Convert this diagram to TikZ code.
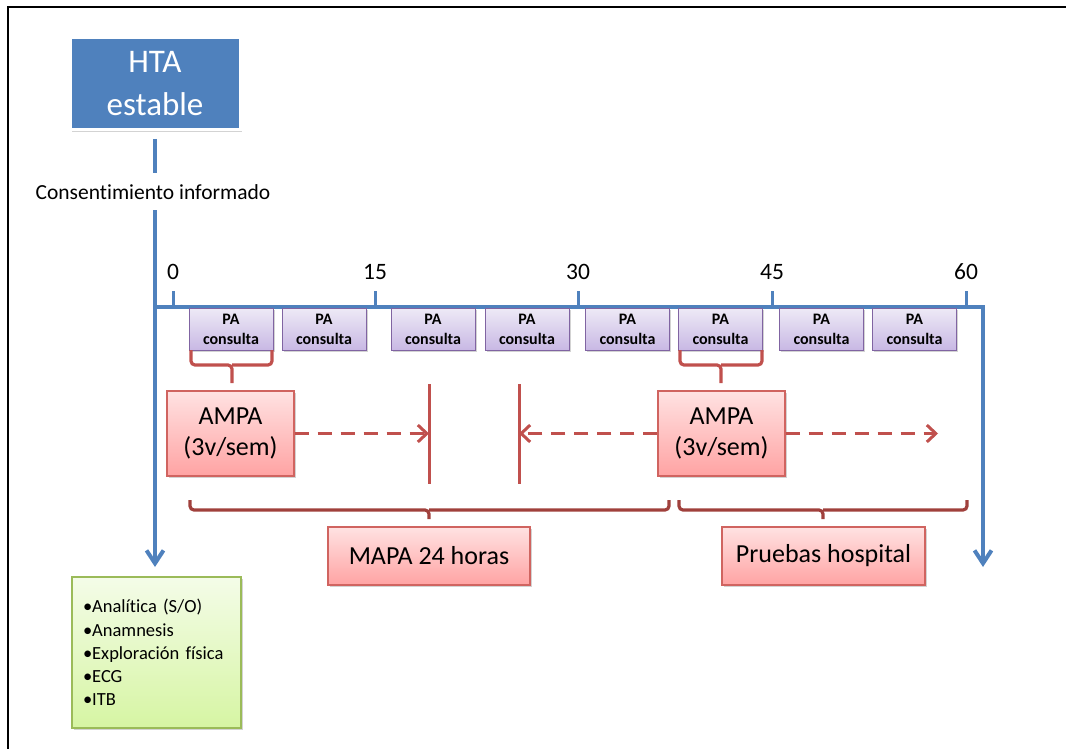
\documentclass[tikz,border=0pt]{standalone}
\usepackage{fontspec}
\setmainfont{Carlito}[Ligatures={NoCommon}]
\usetikzlibrary{arrows.meta,shadows}
\definecolor{tblue}{HTML}{4F81BD}
\definecolor{pabord}{HTML}{8064A2}
\definecolor{patop}{HTML}{EEEAF6}
\definecolor{pabot}{HTML}{C8B8E4}
\definecolor{redl}{HTML}{C0504D}
\definecolor{redd}{HTML}{A0403C}
\definecolor{pktop}{HTML}{FFE2E2}
\definecolor{pkbot}{HTML}{FFA3A3}
\definecolor{pkbord}{HTML}{D06460}
\definecolor{grtop}{HTML}{F4FCE8}
\definecolor{grbot}{HTML}{D6F5A3}
\definecolor{grbord}{HTML}{9BBB59}
\begin{document}
\begin{tikzpicture}[x=1pt,y=-1pt,
  shad/.style={drop shadow={opacity=0.35,shadow xshift=1.5pt,shadow yshift=-2pt}},
  hta/.style={shad,fill=tblue,draw=white,line width=3pt,minimum width=170pt,minimum height=92pt,
    text=white,align=center,inner sep=0pt,font=\fontsize{33}{43}\selectfont},
  blueline/.style={draw=tblue,line width=4pt},
  bluearrow/.style={blueline,-{Straight Barb[length=13pt,width=17pt]}},
  pabox/.style={shad,draw=pabord,line width=1pt,top color=patop,bottom color=pabot,
    minimum width=84pt,minimum height=42pt,inner sep=0pt,align=center,
    font=\bfseries\fontsize{16}{20}\selectfont},
  pkbox/.style={shad,draw=pkbord,line width=1.2pt,top color=pktop,bottom color=pkbot,
    inner sep=0pt,align=center,font=\fontsize{26}{31}\selectfont},
  grbox/.style={shad,draw=grbord,line width=1.2pt,top color=grtop,bottom color=grbot,
    minimum width=169pt,minimum height=151pt,text width=147pt,inner xsep=11pt,
    align=left,font=\fontsize{18.5}{23.2}\selectfont},
  ticklab/.style={font=\fontsize{23.5}{26}\selectfont,inner sep=0pt},
  redline/.style={draw=redl,line width=3pt},
  brace/.style={draw=redl,line width=3.2pt,rounded corners=4pt},
  bigbrace/.style={draw=redd,line width=3.2pt,rounded corners=4pt},
  reddash/.style={draw=redl,line width=3pt,dash pattern=on 14pt off 9pt,
    -{Straight Barb[length=9pt,width=17pt]}}
]
\useasboundingbox (0,0) rectangle (1066,749);
% frame
\draw[line width=1.2pt] (8,749) -- (8,7) -- (1066,7);

% HTA box
\node[hta] (hta) at (155,84) {HTA\\estable};
\node[font=\fontsize{21.5}{24}\selectfont,inner sep=0pt,minimum height=37pt] (consent) at (153,192) {Consentimiento informado};
\coordinate (hb) at (155,139);
\coordinate (c1) at (155,173);
\coordinate (c2) at (155,210);
\coordinate (ax0) at (155,307);
\coordinate (axl) at (155,567);
\coordinate (ax1) at (983,307);
\coordinate (axr) at (983,567);
\draw[blueline] (hb) -- (c1);
\draw[bluearrow] (c2) -- (axl);
\draw[bluearrow] (ax0) -- (ax1) -- (axr);

% ticks
\foreach \x/\l [count=\i] in {173/0,375/15,578/30,772/45,966/60}{
  \coordinate (t\i) at (\x,307);
  \draw[draw=tblue,line width=3pt] (t\i) -- ++(0,-16);
  \node[ticklab] (tl\i) at (\x,272) {\l};
}

% PA consulta boxes
\foreach \x [count=\i] in {231,324,433,527,627.5,720.5,821.5,914.5}{
  \node[pabox] (pa\i) at (\x,329) {PA\\consulta};
}

% small braces
\draw[brace] (191,350) |- (232,365) -- (232,383);
\draw[brace] (272,350) |- (232,365);
\draw[brace] (680,350) |- (721,365) -- (721,383);
\draw[brace] (762,350) |- (721,365);

% AMPA boxes
\node[pkbox,minimum width=127pt,minimum height=85pt] (ampa1) at (230.5,433.5) {AMPA\\(3v/sem)};
\node[pkbox,minimum width=127pt,minimum height=85pt] (ampa2) at (721.5,433.5) {AMPA\\(3v/sem)};

% red vertical lines
\coordinate (v1t) at (429,384);
\coordinate (v1b) at (429,484);
\coordinate (v2t) at (519,384);
\coordinate (v2b) at (519,484);
\coordinate (aend) at (938,433.5);
\draw[redline] (v1t) -- (v1b);
\draw[redline] (v2t) -- (v2b);

% dashed arrows
\draw[reddash] (ampa1.east) -- (v1t |- ampa1.east);
\draw[reddash] (ampa2.west) -- (v2t |- ampa2.west);
\draw[reddash] (ampa2.east) -- (aend);

% big braces
\draw[bigbrace] (190,500) |- (429,510) -- (429,519);
\draw[bigbrace] (669,500) |- (429,510);
\draw[bigbrace] (679,500) |- (823,510) -- (823,519);
\draw[bigbrace] (967,500) |- (823,510);

% bottom boxes
\node[pkbox,minimum width=202pt,minimum height=58pt] (mapa) at (429,556) {MAPA 24 horas};
\node[pkbox,minimum width=203pt,minimum height=58pt] (pruebas) at (823.5,556) {Pruebas hospital};

% green box
\node[grbox] (green) at (156.5,652.5) {•Analítica (S/O)\\•Anamnesis\\•Exploración física\\•ECG\\•ITB};
\end{tikzpicture}
\end{document}
